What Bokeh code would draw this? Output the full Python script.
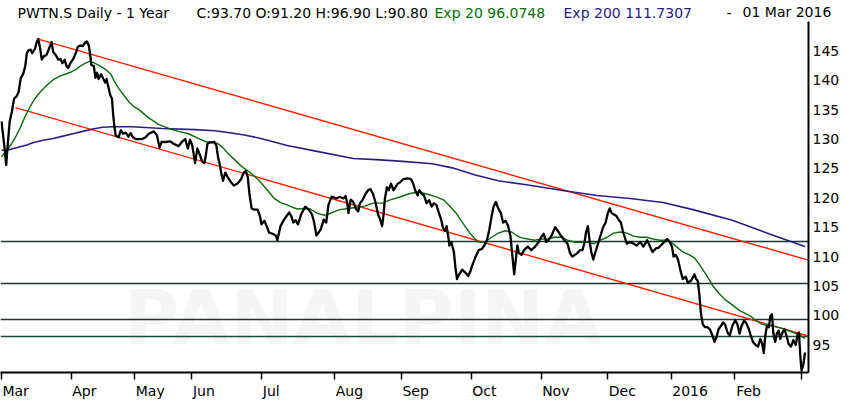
from bokeh.plotting import figure
from bokeh.models import Range1d, FixedTicker, Label, LinearAxis
from bokeh.embed import file_html
from bokeh.resources import INLINE

# ---------------- data (x = trading day since 02 Mar 2015) ----------------
month_days = [0, 22, 42, 60, 82, 105, 126, 148, 170, 191, 211, 231, 252]
month_labels = ["Mar", "Apr", "May", "Jun", "Jul", "Aug", "Sep", "Oct", "Nov", "Dec", "2016", "Feb", "Mar"]

y_ticks = [95, 100, 105, 110, 115, 120, 125, 130, 135, 140, 145]

close_day = [0.0, 0.9, 1.5, 2.0, 2.6, 3.3, 4.0, 4.7, 5.4, 6.1, 6.8, 7.5, 8.0, 8.5, 9.2, 9.7, 10.6, 11.1, 11.6, 12.2,
             12.7, 13.4, 14.2, 15.0, 15.8, 16.3, 17.1, 17.9, 18.6, 19.2, 19.9, 20.5, 21.0, 21.7, 22.5, 23.4, 24.1, 24.8,
             25.6, 26.5, 26.9, 27.5, 27.9, 28.3, 29.1, 29.6, 30.1, 30.6, 31.4, 32.1, 32.7, 33.1, 33.7, 34.3, 34.8, 35.2,
             35.6, 36.0, 36.9, 37.6, 38.3, 39.2, 40.0, 40.7, 41.4, 42.3, 43.3, 44.3, 45.4, 46.4, 48.0, 49.0, 49.8, 50.4,
             51.6, 53.2, 54.2, 55.8, 56.8, 57.9, 58.7, 59.4, 60.1, 61.0, 61.7, 62.5, 63.2, 63.9, 64.3, 64.9, 65.6, 67.0,
             67.7, 68.2, 68.8, 69.3, 69.8, 70.5, 71.3, 72.4, 73.2, 74.5, 75.5, 76.3, 77.0, 77.6, 78.1, 78.8, 79.7, 80.7,
             81.4, 81.9, 82.8, 83.6, 84.3, 85.4, 86.4, 86.9, 87.9, 89.0, 90.6, 91.3, 91.9, 92.6, 93.4, 94.4, 95.7, 96.8,
             97.8, 98.5, 99.2, 99.9, 100.6, 101.5, 102.3, 103.0, 104.0, 105.4, 106.6, 107.7, 108.4, 108.9, 109.3, 110.0,
             110.8, 111.6, 112.4, 112.9, 113.7, 114.7, 115.5, 116.2, 117.0, 117.8, 118.6, 119.3, 119.9, 120.3, 120.8,
             121.4, 122.0, 122.7, 123.5, 124.1, 124.8, 125.5, 126.6, 127.9, 129.0, 129.7, 130.3, 131.1, 131.6, 132.4,
             133.1, 133.9, 134.7, 135.5, 136.2, 137.0, 137.8, 138.5, 139.0, 139.7, 140.2, 140.7, 141.1, 141.7, 142.5,
             143.0, 143.5, 144.2, 145.1, 146.1, 147.0, 147.7, 148.2, 149.2, 150.3, 151.3, 152.1, 152.9, 153.6, 154.4,
             155.0, 155.7, 156.5, 157.3, 158.0, 158.8, 159.6, 160.3, 160.8, 161.5, 162.0, 162.5, 163.0, 163.8, 164.6,
             165.8, 166.9, 168.1, 169.2, 170.0, 170.8, 171.6, 172.3, 173.3, 174.4, 175.2, 176.2, 177.3, 178.3, 179.1,
             179.8, 180.6, 181.4, 182.2, 183.0, 183.7, 184.1, 184.7, 185.3, 185.8, 186.4, 187.1, 187.9, 188.7, 189.5,
             190.3, 191.0, 191.6, 192.2, 192.8, 193.7, 194.4, 195.1, 195.7, 196.5, 197.0, 198.0, 199.1, 200.1, 201.2,
             202.2, 203.4, 204.3, 205.1, 206.1, 206.9, 208.2, 209.7, 210.5, 211.2, 211.7, 212.4, 213.1, 213.8, 214.6,
             215.5, 216.2, 217.2, 218.3, 218.8, 219.3, 219.8, 220.3, 220.9, 221.6, 222.4, 223.2, 224.0, 224.6, 225.2,
             225.9, 226.6, 227.3, 227.9, 228.7, 229.4, 230.2, 231.1, 231.8, 232.5, 233.1, 233.9, 234.6, 235.4, 236.0,
             236.7, 237.5, 238.3, 239.0, 239.6, 240.1, 240.6, 241.1, 241.7, 242.2, 242.7, 243.1, 243.7, 244.2, 244.8,
             245.3, 246.0, 246.6, 247.4, 247.9, 248.7, 249.4, 250.2, 250.8, 251.2, 251.6, 252.0, 252.6, 253.1]
close_val = [133.0, 128.9, 125.6, 129.2, 133.0, 134.7, 136.9, 137.2, 138.0, 140.4, 141.0, 142.4, 144.6, 145.1, 145.2,
             144.6, 145.4, 146.5, 147.0, 145.4, 143.5, 144.1, 144.3, 145.4, 146.5, 144.8, 144.3, 143.5, 143.6, 142.9,
             143.5, 142.4, 142.1, 142.9, 143.5, 144.6, 145.7, 145.9, 145.8, 146.5, 146.6, 145.9, 144.6, 142.6, 142.4,
             140.4, 141.3, 140.2, 141.0, 140.2, 139.6, 140.2, 138.8, 137.4, 136.9, 134.1, 132.0, 130.6, 130.3, 131.5,
             130.9, 131.1, 130.4, 131.0, 130.3, 130.0, 130.0, 130.0, 130.3, 130.9, 131.3, 130.6, 128.5, 129.5, 129.5,
             129.6, 129.2, 128.8, 129.5, 130.0, 128.4, 129.9, 128.9, 125.9, 128.4, 127.3, 126.2, 125.9, 127.0, 129.2,
             129.4, 129.5, 128.9, 127.0, 125.6, 124.0, 122.9, 124.3, 123.5, 122.6, 122.1, 122.5, 123.2, 124.3, 124.6,
             123.5, 120.7, 118.2, 118.0, 118.0, 116.9, 115.5, 116.1, 115.1, 114.1, 113.9, 113.6, 112.8, 115.2, 116.3,
             117.5, 116.9, 115.8, 116.2, 115.5, 117.2, 118.5, 118.0, 117.2, 115.8, 113.6, 114.1, 114.7, 116.3, 115.8,
             118.8, 120.2, 119.9, 120.2, 119.9, 120.3, 119.1, 117.4, 119.7, 119.3, 118.2, 117.7, 119.1, 119.6, 120.7,
             121.3, 121.5, 120.7, 119.3, 117.2, 116.3, 115.2, 116.9, 119.9, 121.8, 121.3, 122.4, 121.3, 121.8, 122.4,
             122.6, 123.2, 123.3, 123.2, 122.4, 121.3, 120.4, 121.3, 120.7, 120.4, 119.1, 119.6, 118.5, 119.1, 118.8,
             117.4, 116.3, 115.0, 114.4, 115.2, 113.6, 111.9, 112.5, 110.8, 108.1, 106.2, 107.0, 107.8, 107.3, 106.7,
             107.5, 108.4, 109.8, 111.1, 111.3, 111.9, 112.8, 114.4, 116.9, 118.5, 119.3, 118.2, 117.4, 115.8, 116.1,
             115.2, 113.6, 110.8, 107.0, 109.5, 111.9, 110.6, 110.3, 111.1, 111.7, 111.1, 111.7, 112.5, 113.3, 113.9,
             112.5, 112.8, 113.6, 115.0, 114.4, 113.6, 112.8, 112.2, 110.6, 110.0, 110.3, 110.6, 111.1, 111.1, 112.5,
             114.1, 115.2, 112.5, 110.8, 109.5, 110.8, 112.2, 113.6, 115.0, 115.8, 117.4, 118.2, 117.4, 117.2, 116.9,
             116.3, 115.8, 114.4, 113.0, 112.2, 112.5, 112.2, 111.9, 112.5, 111.7, 112.8, 111.7, 110.8, 111.4, 111.5,
             112.2, 113.0, 112.5, 111.7, 110.0, 110.3, 109.5, 107.8, 106.2, 106.6, 105.6, 105.9, 107.0, 106.2, 105.9,
             103.7, 100.4, 98.5, 98.0, 98.0, 97.6, 96.5, 95.5, 96.3, 97.7, 98.2, 98.8, 98.5, 97.1, 96.6, 98.2, 99.2,
             98.5, 96.9, 98.2, 99.1, 98.7, 97.7, 96.6, 95.5, 95.0, 94.7, 96.0, 95.2, 93.6, 96.6, 98.2, 98.0, 99.9,
             100.2, 97.1, 95.5, 96.9, 97.4, 96.0, 97.1, 97.7, 96.3, 95.2, 94.7, 95.8, 95.0, 96.9, 97.1, 93.3, 90.6,
             91.7, 93.7]

ema20_day = [0.0, 1.3, 2.8, 4.4, 5.9, 7.5, 9.0, 10.6, 12.2, 14.2, 16.3, 18.4, 20.5, 22.0, 23.6, 25.1, 26.7, 27.9,
             29.3, 30.8, 32.9, 34.5, 35.5, 37.1, 38.6, 40.2, 41.7, 43.3, 46.4, 49.5, 52.7, 55.8, 58.9, 62.0, 64.6,
             66.7, 68.2, 69.8, 71.3, 73.4, 75.5, 77.6, 79.7, 81.7, 83.8, 85.9, 87.9, 90.0, 91.1, 93.2, 95.2, 97.3,
             99.4, 102.0, 104.1, 106.6, 109.3, 111.8, 114.4, 117.0, 120.2, 122.2, 125.3, 128.4, 131.1, 133.6, 136.8,
             139.4, 141.4, 143.5, 145.6, 147.7, 149.2, 150.3, 152.3, 154.4, 156.5, 158.6, 160.7, 162.2, 163.8, 165.8,
             167.9, 170.0, 172.1, 174.1, 176.2, 178.3, 180.4, 182.5, 184.5, 186.6, 188.7, 190.8, 192.8, 194.9, 197.0,
             199.1, 201.2, 203.2, 205.3, 207.4, 209.4, 211.0, 212.6, 214.6, 216.7, 218.3, 219.8, 221.9, 224.0, 226.1,
             228.1, 230.2, 232.3, 234.4, 235.9, 237.5, 239.6, 241.7, 243.7, 245.8, 247.9, 249.9, 251.5, 253.1]
ema20_val = [127.0, 127.8, 128.9, 130.3, 131.9, 133.9, 135.5, 136.9, 138.0, 139.1, 140.1, 140.7, 141.1, 141.4, 141.9,
             142.5, 143.0, 143.2, 142.9, 142.5, 141.8, 141.0, 139.9, 138.5, 137.4, 136.3, 135.5, 135.0, 133.6, 132.5,
             131.8, 131.3, 130.9, 130.1, 129.5, 129.5, 129.2, 128.5, 127.6, 126.5, 125.4, 124.6, 123.7, 122.6, 121.3,
             119.9, 119.2, 118.8, 118.5, 118.1, 118.2, 118.1, 117.4, 117.0, 117.5, 118.0, 118.2, 118.4, 118.6, 119.1,
             119.1, 119.6, 120.1, 120.7, 121.0, 120.7, 120.2, 119.6, 118.5, 117.2, 115.5, 113.9, 113.0, 112.5, 112.5,
             113.3, 114.0, 114.4, 114.2, 113.6, 113.2, 113.0, 112.8, 113.0, 113.0, 113.3, 113.3, 112.8, 112.5, 112.4,
             112.5, 112.2, 112.8, 113.3, 114.0, 114.2, 114.0, 113.5, 113.3, 113.3, 113.0, 112.8, 112.8, 112.4, 111.7,
             110.8, 110.3, 109.8, 108.7, 107.0, 105.1, 103.7, 102.6, 101.8, 100.9, 100.3, 99.9, 99.2, 98.5, 98.3,
             98.1, 97.8, 97.4, 97.0, 96.7, 96.07]

ema200_day = [0.0, 1.8, 3.8, 5.9, 8.0, 10.1, 13.2, 16.3, 19.4, 22.5, 25.6, 28.8, 31.9, 35.0, 38.1, 41.2, 50.6, 61.0,
              67.2, 71.3, 76.5, 81.7, 85.9, 90.0, 99.4, 110.8, 118.1, 126.4, 135.7, 142.0, 149.2, 156.5, 166.9,
              177.3, 187.6, 198.0, 208.4, 217.8, 230.2, 241.7, 253.1]
ema200_val = [128.1, 128.1, 128.4, 128.7, 129.0, 129.4, 129.8, 130.1, 130.5, 130.9, 131.3, 131.7, 132.0, 132.1, 132.1,
              132.1, 131.8, 131.6, 131.4, 131.1, 130.7, 130.1, 129.5, 128.9, 127.9, 126.7, 126.5, 126.2, 125.8, 125.1,
              123.9, 122.9, 122.1, 121.2, 120.4, 119.9, 119.2, 118.0, 116.2, 113.9, 111.73]

trend_upper_day = [11.6, 254.2]
trend_upper_val = [147.0, 109.4]
trend_lower_day = [4.4, 254.2]
trend_lower_val = [135.35, 96.5]

levels = [112.5, 105.5, 99.3]
level_green = [96.4]

header_date = "01 Mar 2016"

# ---------------- layout constants ----------------
X_START, X_END = -0.3, 254.2
Y_START, Y_END = 90.3, 153.05
FIG_W, FIG_H = 842, 401
BORDER_R, BORDER_B = 31, 27
FRAME_W = FIG_W - BORDER_R
PX_PER_DAY = FRAME_W / (X_END - X_START)

# DejaVu Sans advance widths (em) used to left-align texts drawn by axes
DV = {"M": .863, "a": .613, "r": .411, "A": .684, "p": .635, "y": .592, "J": .295, "u": .634, "n": .634,
      "l": .278, "g": .635, "S": .635, "e": .615, "O": .787, "c": .550, "t": .392, "N": .748, "o": .612,
      "v": .592, "D": .770, "2": .636, "0": .636, "1": .636, "6": .636, "F": .575, "b": .635, " ": .318}


def text_w(s, size):
    return sum(DV[c] for c in s) * size


XLAB_SIZE = 14
label_centers = [round(d + (1 + text_w(lab, XLAB_SIZE) / 2) / PX_PER_DAY, 3)
                 for d, lab in zip(month_days, month_labels)]

HDR_SIZE = 14
HDR_DATE_LEFT = 745  # px
date_center = round((HDR_DATE_LEFT + text_w(header_date, HDR_SIZE) / 2) / PX_PER_DAY + X_START, 3)

# ---------------- figure ----------------
p = figure(width=FIG_W, height=FIG_H, output_backend="svg", toolbar_location=None,
           x_range=Range1d(X_START, X_END), y_range=Range1d(Y_START, Y_END),
           y_axis_location="right",
           min_border_left=0, min_border_right=BORDER_R, min_border_top=0, min_border_bottom=BORDER_B,
           outline_line_color=None, background_fill_color="white", border_fill_color="white")
p.grid.visible = False

# watermark
p.add_layout(Label(x=38.6, y=99.5, text="PANALPINA", text_font="DejaVu Sans", text_font_style="bold",
                   text_font_size="75px", text_color="#f5f5f5", text_baseline="alphabetic", level="underlay"))

p.hspan(y=levels, line_color="#1c3535", line_width=1.6)
p.hspan(y=level_green, line_color="#1d4a32", line_width=1.6)

p.line(trend_upper_day, trend_upper_val, line_color="#ff1e00", line_width=1.4)
p.line(trend_lower_day, trend_lower_val, line_color="#ff1e00", line_width=1.4)

p.line(ema200_day, ema200_val, line_color="#2b1f86", line_width=1.6)
p.line(ema20_day, ema20_val, line_color="#0b6b0b", line_width=1.4)
p.line(close_day, close_val, line_color="black", line_width=2.3, line_join="round")

# y axis (right)
ya = p.yaxis[0]
ya.ticker = FixedTicker(ticks=y_ticks)
ya.bounds = (Y_START, 150.0)
ya.axis_line_color = "black"
ya.axis_line_width = 2
ya.major_tick_line_color = None
ya.minor_tick_line_color = None
ya.major_tick_out = 0
ya.major_tick_in = 0
ya.major_label_standoff = 4
ya.major_label_text_font = "DejaVu Sans"
ya.major_label_text_font_size = "14px"
ya.major_label_text_color = "black"

# x axis: line + month ticks
xa = p.xaxis[0]
xa.ticker = FixedTicker(ticks=month_days)
xa.axis_line_color = "black"
xa.axis_line_width = 2
xa.major_tick_line_color = "black"
xa.major_tick_line_width = 1.5
xa.major_tick_out = 7
xa.major_tick_in = 0
xa.minor_tick_line_color = None
xa.major_label_standoff = 0
xa.major_label_text_font_size = "0px"
xa.major_label_overrides = {d: "" for d in month_days}

# x axis: month names, left-aligned at the ticks
xl = LinearAxis(ticker=FixedTicker(ticks=label_centers), bounds=(X_START, X_END + 6))
xl.axis_line_color = None
xl.major_tick_line_color = None
xl.minor_tick_line_color = None
xl.major_tick_out = 0
xl.major_tick_in = 0
xl.major_label_standoff = 3
xl.major_label_text_font = "DejaVu Sans"
xl.major_label_text_font_size = f"{XLAB_SIZE}px"
xl.major_label_text_color = "black"
xl.major_label_overrides = {c: lab for c, lab in zip(label_centers, month_labels)}
p.add_layout(xl, "below")

# header date (drawn by a label-only axis so it may run past the frame edge)
hd = LinearAxis(ticker=FixedTicker(ticks=[date_center]))
hd.axis_line_color = None
hd.major_tick_line_color = None
hd.minor_tick_line_color = None
hd.major_tick_out = 0
hd.major_tick_in = 0
hd.major_label_standoff = -16
hd.major_label_text_font = "DejaVu Sans"
hd.major_label_text_font_size = f"{HDR_SIZE}px"
hd.major_label_text_color = "black"
hd.major_label_overrides = {date_center: header_date}
p.add_layout(hd, "above")

# header (inside the frame, above the price area)
HDR_Y = 151.5
hdr = [
    (17, "PWTN.S Daily -  1 Year", "black"),
    (196, "C:93.70 O:91.20 H:96.90 L:90.80", "black"),
    (434, "Exp 20 96.0748", "#0b6b0b"),
    (563, "Exp 200 111.7307", "#2b1a78"),
    (726, "-", "black"),
]
for hx, ht, hc in hdr:
    p.add_layout(Label(x=hx, y=HDR_Y, x_units="screen", text=ht, text_color=hc,
                       text_font="DejaVu Sans", text_font_size=f"{HDR_SIZE}px", text_baseline="alphabetic"))

open("out.html", "w").write(file_html(p, INLINE))
